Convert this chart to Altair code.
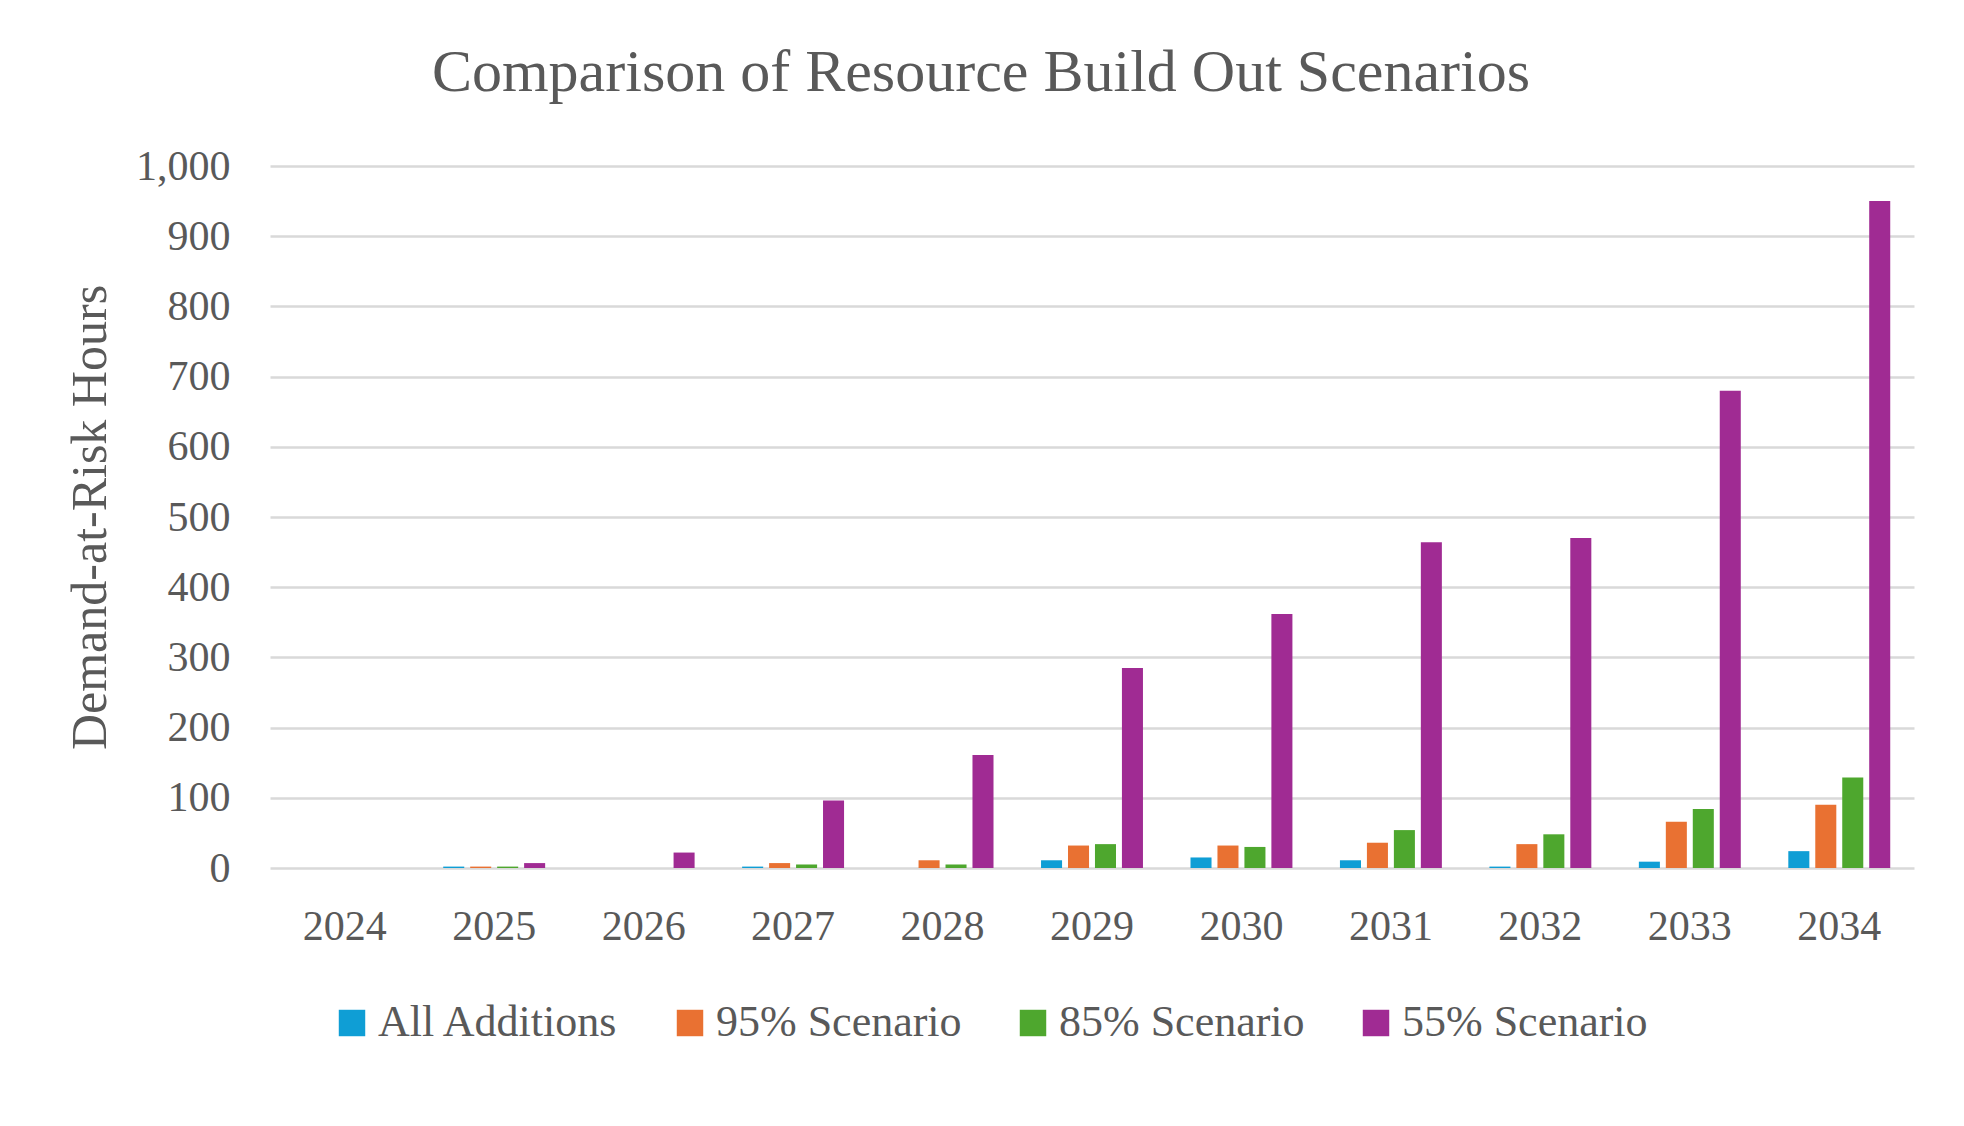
import altair as alt
import pandas as pd

years = ["2024", "2025", "2026", "2027", "2028", "2029", "2030", "2031", "2032", "2033", "2034"]
series_names = ["All Additions", "95% Scenario", "85% Scenario", "55% Scenario"]
all_additions = [0, 2, 0, 2, 0, 11, 15, 11, 2, 9, 24]
scen_95 = [0, 2, 0, 7, 11, 32, 32, 36, 34, 66, 90]
scen_85 = [0, 2, 0, 5, 5, 34, 30, 54, 48, 84, 129]
scen_55 = [0, 7, 22, 96, 161, 285, 362, 464, 470, 680, 950]
colors = ["#0F9ED5", "#E97132", "#4EA72E", "#A02B93"]
y_ticks = [0, 100, 200, 300, 400, 500, 600, 700, 800, 900, 1000]

rows = []
for name, vals in zip(series_names, [all_additions, scen_95, scen_85, scen_55]):
    for yr, v in zip(years, vals):
        rows.append({"Year": yr, "Series": name, "Hours": v})
df = pd.DataFrame(rows)

FONT = "Liberation Serif"
TXT = "#595959"

chart = alt.Chart(df).mark_bar().encode(
    x=alt.X("Year:N", sort=years, title=None,
            scale=alt.Scale(paddingInner=0.318, paddingOuter=0.159),
            axis=alt.Axis(labelAngle=0, labelFont=FONT, labelFontSize=42, labelColor=TXT,
                          labelPadding=38, ticks=False, domain=False, grid=False)),
    xOffset=alt.XOffset("Series:N", sort=series_names,
                        scale=alt.Scale(paddingInner=0.22, paddingOuter=0)),
    y=alt.Y("Hours:Q", title="Demand-at-Risk Hours",
            scale=alt.Scale(domain=[0, 1000], nice=False),
            axis=alt.Axis(values=y_ticks, format=",.0f", labelFont=FONT, labelFontSize=42,
                          labelColor=TXT, labelPadding=40, ticks=False, domain=False,
                          gridColor="#d9d9d9", gridWidth=2.5,
                          titleFont=FONT, titleFontSize=50, titleColor=TXT,
                          titleFontWeight="normal", titleX=-180, titleY=351,
                          titleAlign="center", titleBaseline="middle", titleAngle=-90)),
    color=alt.Color("Series:N", sort=series_names,
                    scale=alt.Scale(domain=series_names, range=colors),
                    legend=alt.Legend(title=None, orient="none", direction="horizontal",
                                      legendX=60, legendY=835, symbolType="square",
                                      symbolSize=700, symbolStrokeWidth=0,
                                      labelFont=FONT, labelFontSize=44, labelColor=TXT,
                                      labelLimit=0, labelOffset=4, columnPadding=49)),
).properties(
    width=1644,
    height=702,
    title=alt.TitleParams("Comparison of Resource Build Out Scenarios", font=FONT,
                          fontSize=60, fontWeight="normal", color=TXT, anchor="middle",
                          dx=-111, offset=41),
    autosize=alt.AutoSizeParams(type="none"),
    padding={"left": 262, "top": 158, "right": 40, "bottom": 250},
).configure_view(stroke=None)

chart.save("out.html", embed_options={"renderer": "svg", "actions": False})
